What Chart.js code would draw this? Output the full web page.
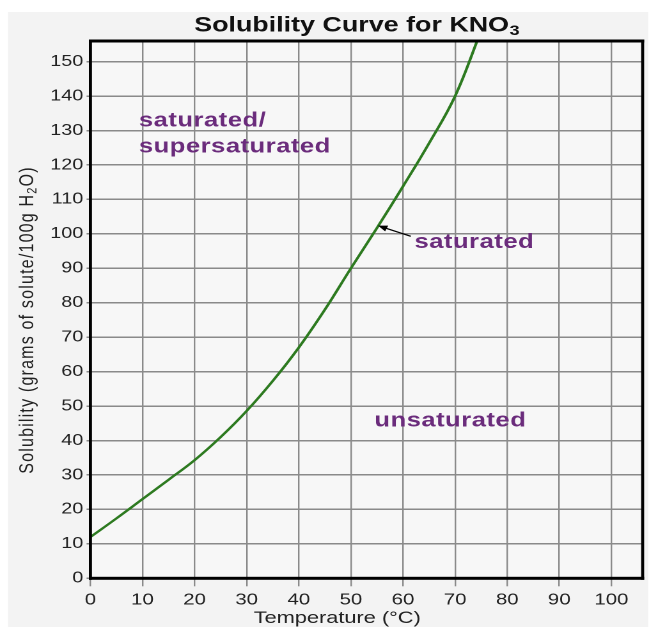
<!DOCTYPE html>
<html>
<head>
<meta charset="utf-8">
<script src="https://cdn.jsdelivr.net/npm/chart.js@4.4.1/dist/chart.umd.min.js"></script>
<style>
  html, body { margin: 0; padding: 0; background: #fff; }
  #chart { display: block; }
</style>
</head>
<body>
<!-- the original picture is stretched sideways, so the canvas is drawn narrow and widened by its style -->
<canvas id="chart" width="520" height="635" style="width:665px;height:635px"></canvas>
<script>
// temperature (°C) and KNO3 solubility (g / 100 g water)
const temps = [0, 5, 10, 15, 20, 25, 30, 35, 40, 45, 50, 55, 60, 65, 70, 75];
const solubility = [12, 17.4, 23, 28.6, 34.3, 41, 48.6, 57.3, 67, 78, 90, 101.7, 113.8, 126.3, 140, 159];

const xTickValues = [0, 10, 20, 30, 40, 50, 60, 70, 80, 90, 100];
const yTickValues = [0, 10, 20, 30, 40, 50, 60, 70, 80, 90, 100, 110, 120, 130, 140, 150];

const FONT = '"Liberation Sans", Arial, sans-serif';
const PURPLE = '#6b2c7c';

// region labels, placed in data units
const regionLabels = [
    { text: 'saturated/', x: 9.3, y: 131.2 },
    { text: 'supersaturated', x: 9.3, y: 123.6 },
    { text: 'saturated', x: 62.2, y: 95.9 },
    { text: 'unsaturated', x: 54.5, y: 44.1 }
];
const arrowFrom = { x: 61.5, y: 99.3 };
const arrowTo = { x: 55.2, y: 102.4 };

const framePlugin = {
    id: 'frame',
    beforeDraw(chart) {
        const ctx = chart.ctx;
        const a = chart.chartArea;
        ctx.save();
        ctx.fillStyle = '#ffffff';
        ctx.fillRect(0, 0, chart.width, chart.height);
        ctx.fillStyle = '#f3f3f3';
        ctx.fillRect(6.3, 12, 500.5, 615);
        ctx.fillStyle = '#f7f7f7';
        ctx.fillRect(a.left, a.top, a.right - a.left, a.bottom - a.top);
        ctx.restore();
    },
    afterDatasetsDraw(chart) {
        const ctx = chart.ctx;
        const a = chart.chartArea;
        ctx.save();
        ctx.fillStyle = '#000';
        // top and bottom edges
        ctx.fillRect(a.left - 1.2, a.top - 1.5, a.right - a.left + 2.4, 3);
        ctx.fillRect(a.left - 1.2, a.bottom - 1.5, a.right - a.left + 2.4, 3);
        // left and right edges (thinner, they get widened by the stretch)
        ctx.fillRect(a.left - 1.2, a.top - 1.5, 2.4, a.bottom - a.top + 3);
        ctx.fillRect(a.right - 1.2, a.top - 1.5, 2.4, a.bottom - a.top + 3);
        ctx.restore();
    },
    afterDraw(chart) {
        const ctx = chart.ctx;
        const xs = chart.scales.x;
        const ys = chart.scales.y;
        ctx.save();

        // title with subscript
        ctx.fillStyle = '#111';
        ctx.textBaseline = 'alphabetic';
        ctx.textAlign = 'left';
        ctx.font = 'bold 21px ' + FONT;
        const main = 'Solubility Curve for KNO';
        const wMain = ctx.measureText(main).width;
        ctx.font = 'bold 14px ' + FONT;
        const wSub = ctx.measureText('3').width;
        let tx = 278.8 - (wMain + wSub) / 2;
        ctx.font = 'bold 21px ' + FONT;
        ctx.fillText(main, tx, 31.7);
        ctx.font = 'bold 14px ' + FONT;
        ctx.fillText('3', tx + wMain + 0.5, 35);

        // x axis title
        ctx.fillStyle = '#222';
        ctx.font = '17px ' + FONT;
        ctx.textAlign = 'center';
        ctx.fillText('Temperature (°C)', 263.7, 623);

        // y axis title, rotated, with H2O subscript
        ctx.save();
        ctx.translate(21.5, 320);
        ctx.rotate(-Math.PI / 2);
        ctx.letterSpacing = '1.2px';
        ctx.textAlign = 'left';
        ctx.textBaseline = 'middle';
        const p1 = 'Solubility (grams of solute/100g H';
        const p2 = '2';
        const p3 = 'O)';
        ctx.font = '16px ' + FONT;
        const w1 = ctx.measureText(p1).width;
        const w3 = ctx.measureText(p3).width;
        ctx.font = '11px ' + FONT;
        const w2 = ctx.measureText(p2).width;
        let sx = -(w1 + w2 + w3) / 2;
        ctx.font = '16px ' + FONT;
        ctx.fillText(p1, sx, 0);
        ctx.font = '11px ' + FONT;
        ctx.fillText(p2, sx + w1, 4);
        ctx.font = '16px ' + FONT;
        ctx.fillText(p3, sx + w1 + w2, 0);
        ctx.restore();

        // region labels
        ctx.fillStyle = PURPLE;
        ctx.font = 'bold 20px ' + FONT;
        ctx.textAlign = 'left';
        ctx.textBaseline = 'alphabetic';
        ctx.letterSpacing = '0.4px';
        regionLabels.forEach(l => {
            ctx.fillText(l.text, xs.getPixelForValue(l.x), ys.getPixelForValue(l.y));
        });
        ctx.letterSpacing = '0px';

        // arrow to the curve
        const x1 = xs.getPixelForValue(arrowFrom.x), y1 = ys.getPixelForValue(arrowFrom.y);
        const x2 = xs.getPixelForValue(arrowTo.x), y2 = ys.getPixelForValue(arrowTo.y);
        const ang = Math.atan2(y2 - y1, x2 - x1);
        ctx.strokeStyle = '#000';
        ctx.lineWidth = 1.2;
        ctx.beginPath();
        ctx.moveTo(x1, y1);
        ctx.lineTo(x2 - 5 * Math.cos(ang), y2 - 5 * Math.sin(ang));
        ctx.stroke();
        ctx.fillStyle = '#000';
        ctx.beginPath();
        ctx.moveTo(x2, y2);
        ctx.lineTo(x2 - 8 * Math.cos(ang - 0.4), y2 - 8 * Math.sin(ang - 0.4));
        ctx.lineTo(x2 - 8 * Math.cos(ang + 0.4), y2 - 8 * Math.sin(ang + 0.4));
        ctx.closePath();
        ctx.fill();

        ctx.restore();
    }
};

new Chart(document.getElementById('chart'), {
    type: 'line',
    data: {
        datasets: [{
            data: temps.map((t, i) => ({ x: t, y: solubility[i] })),
            borderColor: '#2d7a20',
            borderWidth: 2.2,
            pointRadius: 0,
            tension: 0.4,
            fill: false
        }]
    },
    options: {
        responsive: false,
        animation: false,
        devicePixelRatio: 2,
        layout: { padding: { top: 41, right: 17.5, left: 0, bottom: 0 } },
        plugins: {
            legend: { display: false },
            tooltip: { enabled: false }
        },
        scales: {
            x: {
                type: 'linear',
                min: 0,
                max: 106,
                afterBuildTicks: s => { s.ticks = xTickValues.map(v => ({ value: v })); },
                afterFit: s => { s.height = 56.7; },
                ticks: {
                    color: '#222',
                    font: { family: FONT, size: 16 },
                    padding: 4,
                    maxRotation: 0,
                    autoSkip: false
                },
                grid: { color: '#8a8a8a', lineWidth: 1.2, tickLength: 8 },
                border: { display: false }
            },
            y: {
                min: 0,
                max: 156,
                afterBuildTicks: s => { s.ticks = yTickValues.map(v => ({ value: v })); },
                afterFit: s => { s.width = 70.7; },
                ticks: {
                    color: '#222',
                    font: { family: FONT, size: 15.5 },
                    padding: 2.6,
                    autoSkip: false
                },
                grid: { color: '#8a8a8a', lineWidth: 1.5, tickLength: 3 },
                border: { display: false }
            }
        }
    },
    plugins: [framePlugin]
});
</script>
</body>
</html>
